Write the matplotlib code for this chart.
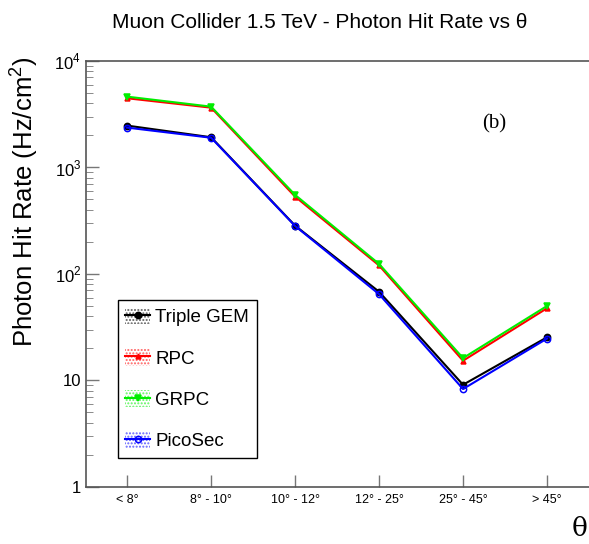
import matplotlib.pyplot as plt
from matplotlib.patches import Patch
from matplotlib.lines import Line2D
import numpy as np

plt.rcParams['font.family'] = ['Liberation Sans', 'DejaVu Sans']
plt.rcParams['mathtext.fontset'] = 'custom'
plt.rcParams['mathtext.rm'] = 'Liberation Sans'

categories = ['< 8°', '8° - 10°', '10° - 12°', '12° - 25°', '25° - 45°', '> 45°']
triple_gem = [2470, 1920, 284, 68, 9.1, 25.4]
rpc = [4460, 3640, 532, 120, 15.3, 47.6]
grpc = [4620, 3720, 552, 124, 16.2, 50]
picosec = [2365, 1900, 282, 64.5, 8.3, 24.7]

series = [
    ('Triple GEM', triple_gem, 'black', 'o', 'black'),
    ('RPC', rpc, 'red', '^', 'red'),
    ('GRPC', grpc, '#00ee00', 'v', '#00ee00'),
    ('PicoSec', picosec, 'blue', 'o', 'none'),
]

fig = plt.figure(figsize=(5.89, 5.44), dpi=100)
ax = fig.add_axes([0.146, 0.105, 0.854, 0.783])
x = np.arange(len(categories))

handles = []
for name, vals, col, mk, fc in series:
    ms = 3.5 if name == 'RPC' else 4.5
    ax.plot(x, vals, color=col, lw=1.5, marker=mk, ms=ms, mfc=fc, mec=col, mew=1.1)
    patch = Patch(facecolor='none', edgecolor=col, hatch='.....', lw=0, alpha=0.6)
    line = Line2D([], [], color=col, lw=1.5, marker=mk, ms=ms, mfc=fc, mec=col, mew=1.1)
    handles.append((patch, line))

ax.set_yscale('log')
ax.set_ylim(1, 1e4)
ax.set_xlim(-0.49, 5.5)
ax.set_xticks(x)
ax.set_xticklabels(categories, fontsize=9)
ax.set_yticks([1, 10, 100, 1000, 10000])
ax.set_yticklabels(['1', '10', '$10^{2}$', '$10^{3}$', '$10^{4}$'], fontsize=12)

for s in ['left', 'bottom', 'top']:
    ax.spines[s].set_color('#555555')
    ax.spines[s].set_linewidth(1.2)
ax.spines['right'].set_visible(False)
ax.tick_params(axis='both', which='major', direction='in', length=9, color='#777777', width=1)
ax.tick_params(axis='y', which='minor', direction='in', length=5, color='#777777')
ax.tick_params(axis='x', which='minor', bottom=False)
ax.tick_params(axis='x', pad=5)

ax.set_ylabel('Photon Hit Rate (Hz/cm$^{2}$)', fontsize=18.5)
ax.yaxis.set_label_coords(-0.0915, 0.669)
fig.text(0.998, 0.005, 'θ', fontsize=19, family='DejaVu Serif', ha='right', va='bottom')
fig.text(0.543, 0.958, 'Muon Collider 1.5 TeV - Photon Hit Rate vs θ', fontsize=15,
         ha='center', va='center')
ax.text(0.811, 0.852, '(b)', transform=ax.transAxes, fontsize=15,
        family='Liberation Serif', ha='center', va='center')

leg = ax.legend(handles, [s[0] for s in series], loc='lower left',
                bbox_to_anchor=(0.0636, 0.068), fontsize=13.5, labelspacing=1.2,
                handlelength=1.3, handleheight=1.0, borderpad=0.4, fancybox=False,
                framealpha=1, edgecolor='black', handletextpad=0.3, borderaxespad=0)
leg.get_frame().set_linewidth(1)

fig.savefig('out.png', dpi=100)
